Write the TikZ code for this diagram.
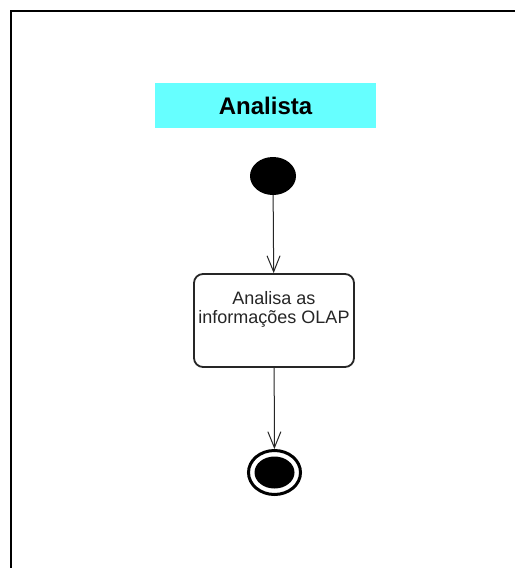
\documentclass[tikz,border=0pt]{standalone}
\usepackage{fontspec}
\setmainfont{Liberation Sans}
\usetikzlibrary{arrows.meta,shapes.geometric}
\definecolor{lanecyan}{HTML}{66FFFF}
\tikzset{
  klane/.style={fill=lanecyan, minimum width=221pt, minimum height=45pt, inner sep=0pt, font=\fontsize{24}{28}\selectfont\bfseries},
  kinit/.style={ellipse, fill=black, minimum width=46pt, minimum height=38pt, inner sep=0pt},
  kfinal/.style={ellipse, draw, line width=3pt, fill=white, minimum width=52pt, minimum height=44pt, inner sep=0pt,
    path picture={\fill[black] (path picture bounding box.center) ellipse (20pt and 16pt);}},
  kaction/.style={draw=black!85, line width=1.8pt, rounded corners=9pt, fill=white, minimum width=160pt, minimum height=93pt, inner sep=0pt},
  ktext/.style={font=\fontsize{18}{19}\selectfont, align=center, text=black!85},
  flow/.style={-{Straight Barb[length=16pt, width=13pt]}, line width=1pt, black!85},
}
\begin{document}
\begin{tikzpicture}[x=1pt, y=-1pt]
    \useasboundingbox (0,0) rectangle (515,568);
    \fill[white] (0,0) rectangle (515,568);
    \draw[line width=2pt] (11,568) -- (11,11) -- (515,11);
    \node[klane] (lane) at (265.5,105.5) {Analista};
    \node[kinit] (start) at (273,176) {};
    \node[kaction, label={[ktext, yshift=11pt]center:Analisa as\\informações OLAP}] (act) at (274,320.5) {};
    \node[kfinal] (stop) at (274.5,472.5) {};
    \draw[flow] (start) -- (act);
    \draw[flow] (act) -- (stop);
\end{tikzpicture}
\end{document}
